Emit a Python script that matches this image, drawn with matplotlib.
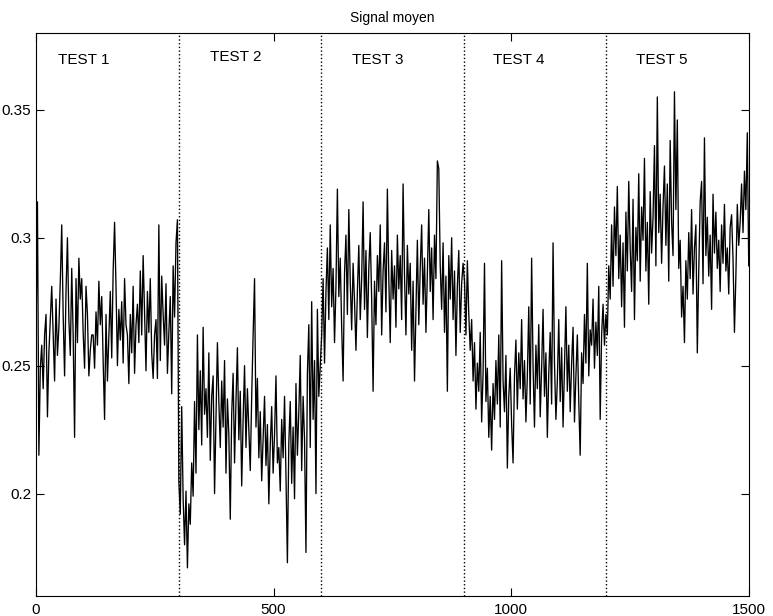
import numpy as np
import matplotlib
matplotlib.use("Agg")
import matplotlib.pyplot as plt

plt.rcParams['font.family'] = ['Liberation Sans', 'DejaVu Sans']

# valeurs (en millièmes), un point tous les 3 échantillons
test1 = [262, 314, 215, 249, 258, 241, 262, 270, 230, 255,
         268, 281, 262, 244, 276, 254, 265, 283, 305, 270,
         246, 279, 300, 268, 254, 288, 262, 222, 284, 259,
         292, 276, 284, 263, 249, 281, 270, 246, 256, 262,
         262, 249, 271, 258, 283, 266, 277, 252, 229, 270,
         244, 262, 279, 253, 287, 306, 281, 250, 272, 260,
         275, 251, 284, 266, 262, 243, 270, 255, 281, 247,
         266, 274, 259, 287, 262, 293, 270, 248, 279, 263,
         284, 255, 245, 262, 268, 245, 305, 252, 285, 270,
         258, 282, 247, 263, 277, 239, 289, 269, 298, 307]

test2 = [205, 192, 234, 198, 180, 201, 171, 196, 188, 212,
         199, 236, 208, 262, 225, 248, 219, 265, 231, 241,
         222, 255, 213, 238, 246, 200, 229, 259, 236, 218,
         244, 226, 252, 208, 237, 223, 190, 231, 247, 212,
         236, 257, 221, 240, 203, 229, 250, 218, 241, 225,
         209, 238, 262, 284, 226, 245, 214, 232, 205, 221,
         238, 211, 227, 196, 219, 234, 208, 223, 246, 212,
         218, 201, 229, 214, 238, 207, 173, 220, 236, 204,
         226, 198, 243, 215, 232, 254, 209, 238, 221, 177,
         247, 266, 218, 275, 229, 252, 200, 272, 238, 250]

test3 = [262, 284, 251, 279, 296, 268, 305, 273, 288, 259,
         281, 319, 277, 292, 265, 244, 286, 301, 270, 311,
         283, 264, 290, 275, 256, 279, 297, 268, 284, 314,
         272, 295, 261, 288, 302, 276, 240, 283, 266, 293,
         279, 305, 262, 287, 298, 271, 319, 284, 259, 295,
         276, 289, 265, 301, 280, 293, 268, 321, 285, 262,
         297, 278, 290, 256, 283, 244, 272, 299, 266, 288,
         305, 274, 292, 263, 286, 311, 279, 296, 268, 301,
         284, 330, 327, 289, 272, 298, 263, 285, 240, 293,
         276, 300, 268, 287, 254, 281, 295, 263, 282, 290]

test4 = [283, 262, 291, 270, 256, 268, 244, 259, 233, 251,
         240, 263, 228, 247, 290, 236, 249, 222, 238, 217,
         243, 229, 252, 235, 262, 226, 291, 244, 232, 254,
         210, 238, 249, 227, 212, 246, 260, 233, 255, 241,
         268, 237, 252, 228, 246, 273, 235, 292, 250, 226,
         258, 241, 266, 230, 249, 272, 238, 255, 222, 247,
         263, 235, 298, 251, 229, 244, 268, 236, 257, 226,
         249, 273, 240, 258, 232, 251, 265, 228, 246, 262,
         236, 215, 255, 243, 270, 251, 290, 246, 264, 258,
         276, 249, 267, 254, 281, 229, 262, 274, 258, 270]

test5 = [262, 289, 276, 305, 281, 312, 293, 320, 284, 301,
         273, 298, 265, 310, 287, 322, 296, 279, 315, 268,
         304, 291, 325, 283, 312, 299, 331, 287, 306, 274,
         318, 294, 308, 336, 289, 355, 302, 317, 290, 312,
         328, 297, 321, 283, 338, 306, 293, 357, 311, 346,
         288, 299, 269, 281, 259, 291, 276, 302, 284, 311,
         278, 296, 305, 255, 287, 314, 322, 282, 339, 293,
         308, 285, 301, 272, 317, 294, 310, 288, 299, 279,
         305, 290, 313, 287, 296, 278, 304, 309, 292, 263,
         285, 313, 297, 306, 321, 302, 326, 311, 341, 289]

limites = [300, 600, 900, 1200]
labels = ["TEST 1", "TEST 2", "TEST 3", "TEST 4", "TEST 5"]
label_x = [100, 421, 720, 1016, 1317]
label_y = [0.3695, 0.3705, 0.3695, 0.3695, 0.3695]

signal = np.array(test1 + test2 + test3 + test4 + test5) / 1000.0
x = np.linspace(0, 1500, len(signal))

fig = plt.figure(figsize=(7.73, 6.16), dpi=100)
ax = fig.add_axes([0.0466, 0.0325, 0.922, 0.914])

ax.plot(x, signal, color='black', linewidth=0.95)

for l in limites:
    ax.axvline(l, color='black', linestyle=':', linewidth=1)

for lab, lx, ly in zip(labels, label_x, label_y):
    ax.text(lx, ly, lab, ha='center', va='center', fontsize=11)

ax.set_xlim(0, 1500)
ax.set_ylim(0.16, 0.38)
ax.set_xticks([0, 500, 1000, 1500])
ax.set_yticks([0.2, 0.25, 0.3, 0.35])
ax.set_yticklabels(['0.2', '0.25', '0.3', '0.35'])
ax.tick_params(direction='in', top=True, right=True, length=6, labelsize=11)
ax.tick_params(axis='x', pad=5)
ax.set_title('Signal moyen', fontsize=10, pad=8)

fig.savefig('out.png', dpi=100)
